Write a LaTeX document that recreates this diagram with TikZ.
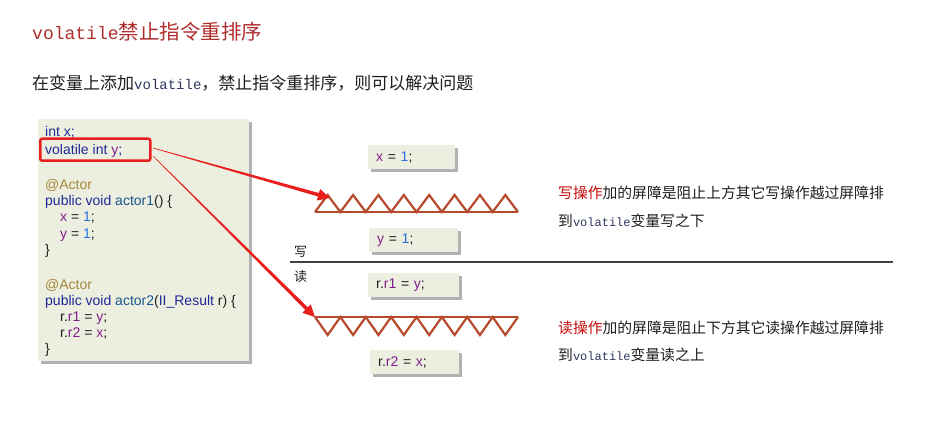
\documentclass[tikz,border=0pt]{standalone}
\usepackage{fontspec}
\setmainfont{Liberation Sans}
\newfontfamily\cjk{Noto Sans CJK SC}
\newfontfamily\mono{Liberation Mono}
\usetikzlibrary{calc,arrows.meta,shadows}
\definecolor{titlered}{RGB}{176,46,46}
\definecolor{kw}{RGB}{30,40,150}
\definecolor{var}{RGB}{130,30,140}
\definecolor{num}{RGB}{40,110,225}
\definecolor{annot}{RGB}{165,135,60}
\definecolor{fn}{RGB}{25,85,140}
\definecolor{barrier}{RGB}{183,74,44}
\definecolor{arrowred}{RGB}{235,30,30}
\definecolor{boxfill}{RGB}{236,239,224}
\definecolor{txt}{RGB}{30,30,30}
\definecolor{monoc}{RGB}{45,55,95}
\definecolor{wred}{RGB}{200,10,10}
\begin{document}
\begin{tikzpicture}[x=1pt,y=-1pt,
  codeline/.style={anchor=base west,inner sep=0,font=\fontsize{14}{16}\selectfont,text=txt},
  sbox/.style={fill=boxfill,anchor=north west,inner xsep=8pt,inner ysep=0pt,align=left,
     font=\fontsize{14}{16}\selectfont,text=txt,
     drop shadow={shadow xshift=2.5pt,shadow yshift=-2.5pt,fill=black!55,opacity=0.55}},
  cjktext/.style={anchor=base west,inner sep=0,text=txt,font=\cjk\fontsize{14.8}{16}\selectfont},
  barline/.style={draw=barrier,line width=2.2pt,line join=miter},
  redarrow/.style={fill=arrowred,draw=none}]
\useasboundingbox (0,0) rectangle (949,430);
\fill[white] (0,0) rectangle (949,430);

% title
\node[anchor=base west,inner sep=0,text=titlered] (title) at (32,40)
  {{\mono\fontsize{18}{20}\selectfont volatile}{\cjk\fontsize{20.5}{22}\selectfont 禁止指令重排序}};
\node[anchor=base west,inner sep=0,text=txt] (sub) at (32,90)
  {{\cjk\fontsize{17}{18}\selectfont 在变量上添加}{\mono\fontsize{14}{16}\selectfont\color{monoc}volatile}{\cjk\fontsize{17}{18}\selectfont ，禁止指令重排序，则可以解决问题}};

% code box
\node[fill=boxfill,anchor=north west,minimum width=211pt,minimum height=242pt,inner sep=0,
  drop shadow={shadow xshift=2.5pt,shadow yshift=-2.5pt,fill=black!55,opacity=0.55}] (code) at (38,119) {};
\node[codeline] (c1) at (45,137) {\color{kw}int x;};
\node[codeline] (c2) at (45,155) {\color{kw}volatile int \color{var}y\color{kw};};
\node[codeline] (c3) at (45,190) {\color{annot}@Actor};
\node[codeline] (c4) at (45,206) {\color{kw}public void \color{fn}actor1\color{txt}() \{};
\node[codeline] (c5) at (60,222) {\color{var}x \color{txt}= \color{num}1\color{txt};};
\node[codeline] (c6) at (60,238) {\color{var}y \color{txt}= \color{num}1\color{txt};};
\node[codeline] (c7) at (45,254) {\}};
\node[codeline] (c8) at (45,289) {\color{annot}@Actor};
\node[codeline] (c9) at (45,305) {\color{kw}public void \color{fn}actor2\color{txt}(\color{kw}II\char"5F Result \color{txt}r) \{};
\node[codeline] (c10) at (60,321) {r.\color{var}r1 \color{txt}= \color{var}y\color{txt};};
\node[codeline] (c11) at (60,337) {r.\color{var}r2 \color{txt}= \color{var}x\color{txt};};
\node[codeline] (c12) at (45,353) {\}};

% red highlight
\node[draw=arrowred,line width=2.5pt,rounded corners=2pt,minimum width=110pt,minimum height=22pt,
  anchor=north west,inner sep=0] (vy) at (39,137.5) {};

% small boxes
\node[sbox,text width=71pt,minimum height=24pt] (b1) at (368,145) {\color{var}x \color{txt}= \color{num}1\color{txt};};
\node[sbox,text width=73pt,minimum height=24pt] (b2) at (369,228) {\color{var}y \color{txt}= \color{num}1\color{txt};};
\node[sbox,text width=75pt,minimum height=24pt] (b3) at (368,273) {r.\color{var}r1 \color{txt}= \color{var}y\color{txt};};
\node[sbox,text width=73pt,minimum height=24pt] (b4) at (370,350) {r.\color{var}r2 \color{txt}= \color{var}x\color{txt};};

% write barrier
\coordinate (wb) at (315,212);
\coordinate (we) at (518,212);
\draw[barline] (wb) -- (we);
\draw[barline] (wb) \foreach \i in {0,...,7} { -- ++(12.6875,-17) -- ++(12.6875,17) };
% read barrier
\coordinate (rb) at (315,317);
\coordinate (re) at (518,317);
\draw[barline] (rb) -- (re);
\draw[barline] (rb) \foreach \i in {0,...,7} { -- ++(12.6875,18) -- ++(12.6875,-18) };

% divider
\coordinate (dl) at (290,262);
\coordinate (dr) at (893,262);
\draw[line width=1.6pt,draw=black!75] (dl) -- (dr);
\node[anchor=base west,inner sep=0,text=txt,font=\cjk\fontsize{13}{15}\selectfont] (xie) at (294,256) {写};
\node[anchor=base west,inner sep=0,text=txt,font=\cjk\fontsize{13}{15}\selectfont] (du) at (294,281) {读};

% arrows (tapered)
\coordinate (s1) at (153,148);
\coordinate (t1) at (330,198);
\coordinate (h1) at ($(t1)!12pt!(s1)$);
\fill[redarrow] ($(s1)!0.3pt!90:(t1)$) -- ($(h1)!1.8pt!-90:(s1)$) -- ($(h1)!6pt!-90:(s1)$) -- (t1)
   -- ($(h1)!6pt!90:(s1)$) -- ($(h1)!1.8pt!90:(s1)$) -- ($(s1)!0.3pt!-90:(t1)$) -- cycle;
\coordinate (s2) at (153,156);
\coordinate (t2) at (rb);
\coordinate (h2) at ($(t2)!12pt!(s2)$);
\fill[redarrow] ($(s2)!0.3pt!90:(t2)$) -- ($(h2)!1.8pt!-90:(s2)$) -- ($(h2)!6pt!-90:(s2)$) -- (t2)
   -- ($(h2)!6pt!90:(s2)$) -- ($(h2)!1.8pt!90:(s2)$) -- ($(s2)!0.3pt!-90:(t2)$) -- cycle;

% right texts
\node[cjktext] (w1) at (558,199) {\color{wred}写操作\color{txt}加的屏障是阻止上方其它写操作越过屏障排};
\node[cjktext] (w2) at (558,226) {到{\mono\fontsize{12}{14}\selectfont\color{monoc}volatile}变量写之下};
\node[cjktext] (r1) at (558,333) {\color{wred}读操作\color{txt}加的屏障是阻止下方其它读操作越过屏障排};
\node[cjktext] (r2) at (558,360) {到{\mono\fontsize{12}{14}\selectfont\color{monoc}volatile}变量读之上};
\end{tikzpicture}
\end{document}
